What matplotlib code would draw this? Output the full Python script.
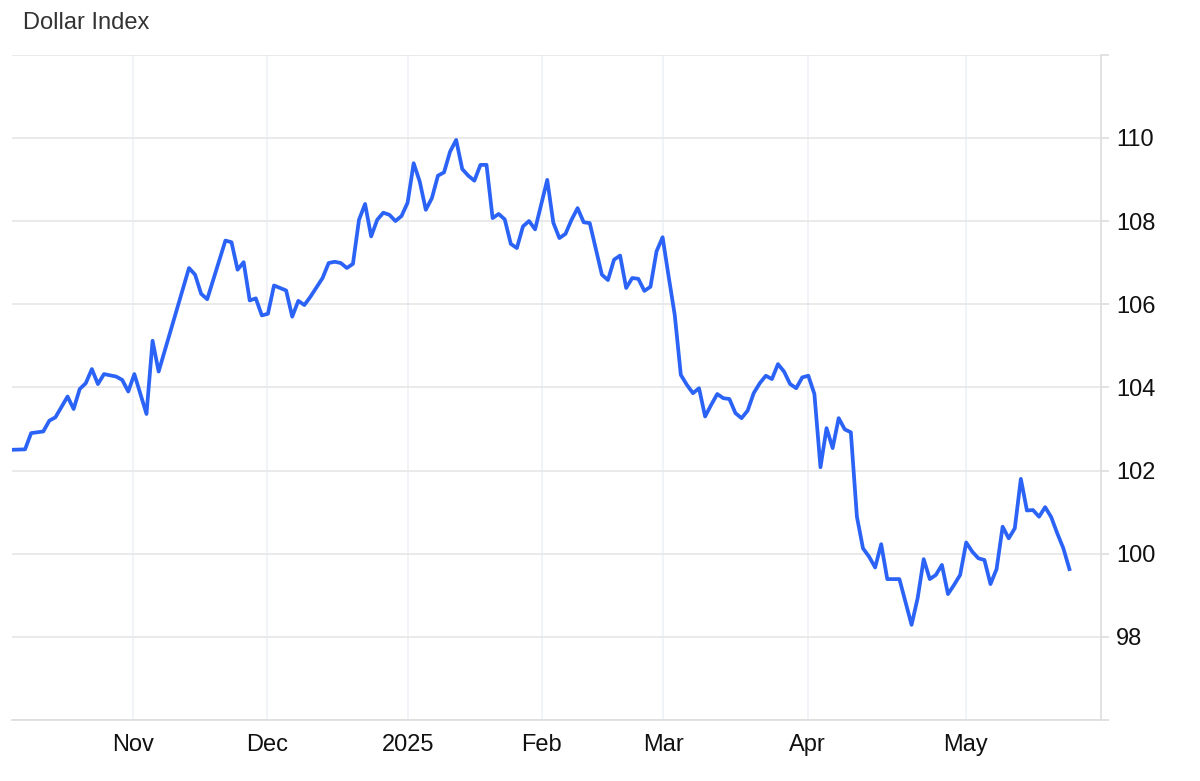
import matplotlib
matplotlib.use('Agg')
import matplotlib.pyplot as plt
from matplotlib.ticker import FixedLocator, FuncFormatter

plt.rcParams['font.family'] = ['Liberation Sans', 'DejaVu Sans']

# --- data: trading-session number and index close ---
session = [0, 2, 3, 5, 6, 7, 9, 10, 11, 12, 13, 14, 15, 17, 18, 19, 20, 22, 23, 24,
           29, 30, 31, 32, 35, 36, 37, 38, 39, 40, 41, 42, 43, 45, 46, 47, 48, 49, 51, 52,
           53, 54, 55, 56, 57, 58, 59, 60, 61, 62, 63, 64, 65, 66, 67, 68, 69, 70, 71, 72,
           73, 74, 75, 76, 77, 78, 79, 80, 81, 82, 83, 84, 85, 86, 88, 89, 90, 91, 92, 93,
           94, 95, 97, 98, 99, 100, 101, 102, 103, 104, 105, 106, 107, 108, 109, 110, 111, 112, 113, 114,
           115, 116, 117, 118, 119, 120, 121, 122, 123, 124, 125, 126, 127, 128, 129, 130, 131, 132, 133, 134,
           135, 136, 137, 138, 139, 140, 141, 142, 143, 144, 145, 146, 148, 149, 150, 151, 152, 153, 154, 155,
           156, 157, 158, 159, 160, 161, 162, 163, 164, 165, 166, 167, 168, 169, 170, 171, 172, 173, 174]
dxy = [102.50, 102.51, 102.90, 102.94, 103.20, 103.28, 103.78, 103.48, 103.96, 104.10,
       104.44, 104.08, 104.32, 104.26, 104.18, 103.90, 104.32, 103.36, 105.12, 104.38,
       106.87, 106.71, 106.25, 106.12, 107.53, 107.49, 106.83, 107.01, 106.09, 106.14,
       105.73, 105.77, 106.45, 106.33, 105.70, 106.08, 105.98, 106.18, 106.63, 106.99,
       107.02, 106.99, 106.87, 106.97, 108.03, 108.41, 107.63, 108.03, 108.20, 108.15,
       108.00, 108.12, 108.44, 109.39, 108.95, 108.27, 108.55, 109.09, 109.17, 109.67,
       109.95, 109.25, 109.09, 108.97, 109.35, 109.35, 108.07, 108.17, 108.04, 107.45,
       107.35, 107.87, 108.00, 107.80, 108.99, 107.96, 107.59, 107.69, 108.03, 108.31,
       107.97, 107.95, 106.71, 106.58, 107.07, 107.17, 106.39, 106.63, 106.61, 106.32,
       106.42, 107.27, 107.61, 106.66, 105.74, 104.30, 104.06, 103.86, 103.98, 103.30,
       103.58, 103.84, 103.74, 103.72, 103.38, 103.26, 103.44, 103.86, 104.10, 104.28,
       104.20, 104.56, 104.38, 104.08, 103.98, 104.24, 104.28, 103.84, 102.08, 103.02,
       102.54, 103.26, 102.99, 102.92, 100.89, 100.13, 99.93, 99.67, 100.23, 99.39,
       99.39, 99.39, 98.29, 98.93, 99.87, 99.39, 99.49, 99.73, 99.03, 99.25,
       99.49, 100.27, 100.05, 99.89, 99.85, 99.27, 99.63, 100.65, 100.37, 100.61,
       101.80, 101.04, 101.05, 100.89, 101.12, 100.88, 100.49, 100.13, 99.63]

# first session of each month (fractional, month boundary)
month_pos = [19.8, 41.8, 65.1, 87.1, 107.1, 130.9, 156.9]
month_labels = ['Nov', 'Dec', '2025', 'Feb', 'Mar', 'Apr', 'May']
y_ticks = [96, 98, 100, 102, 104, 106, 108, 110, 112]

fig = plt.figure(figsize=(12, 7.81), dpi=100)
ax = fig.add_axes([0.01, 0.078, 0.9075, 0.852])

ax.plot(session, dxy, color='#2B63F6', lw=2.7, solid_joinstyle='round', zorder=3)

ax.set_xlim(-0.15, 179.2)
ax.set_ylim(96, 112)

# axes styling
for s in ['top', 'left']:
    ax.spines[s].set_visible(False)
for s in ['right', 'bottom']:
    ax.spines[s].set_color('#DDDDDD')
    ax.spines[s].set_linewidth(1.2)

ax.yaxis.tick_right()
ax.yaxis.set_major_locator(FixedLocator(y_ticks))
ax.yaxis.set_major_formatter(FuncFormatter(lambda v, p: '' if v in (96, 112) else f'{v:.0f}'))
ax.tick_params(axis='y', length=6, width=1.2, color='#DDDDDD', pad=5,
               labelsize=17, labelcolor='#111111')
ax.grid(axis='y', color='#E6E6E6', lw=1.2)

ax.set_xticks(month_pos)
ax.set_xticklabels(month_labels)
ax.tick_params(axis='x', length=0, pad=10, labelsize=17, labelcolor='#111111')
for xp in month_pos:
    ax.axvline(xp, color='#EDF1F6', lw=1.2, zorder=0)

fig.text(23 / 1200, 1 - 23 / 781, 'Dollar Index', fontsize=17, color='#333333',
         ha='left', va='center')

fig.savefig('out.png', dpi=100, facecolor='white')
